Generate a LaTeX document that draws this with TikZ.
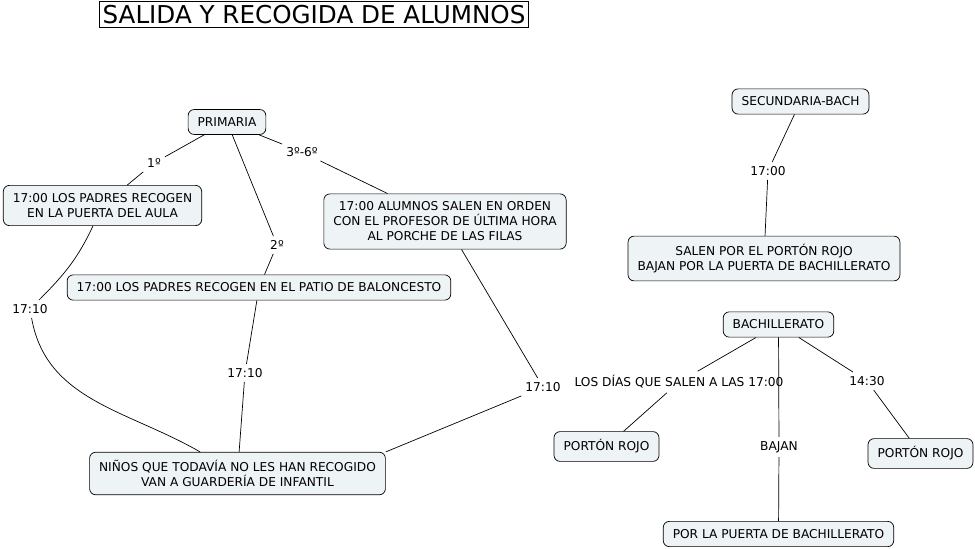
\documentclass[tikz,border=0pt]{standalone}
\usepackage{fontspec}
\setmainfont{DejaVu Sans}
\definecolor{boxfill}{RGB}{238,243,246}
\begin{document}
\begin{tikzpicture}[x=1pt,y=-1pt,line width=0.7pt]
            \tikzset{
                concept/.style={draw,rounded corners=6pt,fill=boxfill,align=center,inner xsep=9.5pt,inner ysep=8pt,font=\fontsize{12.2}{15}\selectfont},
                link/.style={inner sep=4pt,font=\fontsize{12.2}{15}\selectfont},}
            \useasboundingbox (0,0) rectangle (975,549);
            \node [draw,inner xsep=3pt,inner ysep=3.5pt,font=\fontsize{24.6}{28}\selectfont] (title) at (314,14.5) {SALIDA Y RECOGIDA DE ALUMNOS};
            % primaria
            \node [concept] (prim) at (227,122) {PRIMARIA};
            \node [concept] (aula) at (102.5,205.5) {17:00 LOS PADRES RECOGEN\\EN LA PUERTA DEL AULA};
            \node [concept] (filas) at (445,221.5) {17:00 ALUMNOS SALEN EN ORDEN\\CON EL PROFESOR DE ÚLTIMA HORA\\AL PORCHE DE LAS FILAS};
            \node [concept] (patio) at (259,287.5) {17:00 LOS PADRES RECOGEN EN EL PATIO DE BALONCESTO};
            \node [concept] (guard) at (237.5,473.5) {NIÑOS QUE TODAVÍA NO LES HAN RECOGIDO\\VAN A GUARDERÍA DE INFANTIL};
            \node [link] (p1) at (154,163) {1º};
            \node [link] (p2) at (277,245) {2º};
            \node [link] (p3) at (302,152) {3º-6º};
            \node [link] (ta) at (30,309) {17:10};
            \node [link] (tb) at (245,373) {17:10};
            \node [link] (tc) at (543,387) {17:10};
            \draw (prim) -- (p1) (p1) -- (aula);
            \draw (prim) -- (p2) (p2) -- (patio);
            \draw (prim) -- (p3) (p3) -- (filas);
            \draw (aula) to[out=-115,in=45] (ta) (ta) to[out=-80,in=150] (guard);
            \draw (patio) -- (tb) (tb) -- (guard);
            \draw (filas) -- (tc) (tc) -- (guard.north east);
            % secundaria y bachillerato
            \node [concept] (secu) at (800.5,101.5) {SECUNDARIA-BACH};
            \node [concept] (salen) at (764,258.5) {SALEN POR EL PORTÓN ROJO\\BAJAN POR LA PUERTA DE BACHILLERATO};
            \node [concept] (bach) at (778.5,324.5) {BACHILLERATO};
            \node [concept] (rojoa) at (606.5,446.5) {PORTÓN ROJO};
            \node [concept] (rojob) at (920.5,453.5) {PORTÓN ROJO};
            \node [concept] (puerta) at (778.5,534) {POR LA PUERTA DE BACHILLERATO};
            \node [link] (s1) at (768,171) {17:00};
            \node [link] (b1) at (679,382) {LOS DÍAS QUE SALEN A LAS 17:00};
            \node [link] (b2) at (779,447) {BAJAN};
            \node [link] (b3) at (867,381) {14:30};
            \draw (secu) -- (s1) (s1) -- (salen);
            \draw (bach) -- (b1) (b1) -- (rojoa);
            \draw (bach) -- (b2) (b2) -- (puerta);
            \draw (bach) -- (b3) (b3) -- (rojob);
        \end{tikzpicture}
\end{document}
